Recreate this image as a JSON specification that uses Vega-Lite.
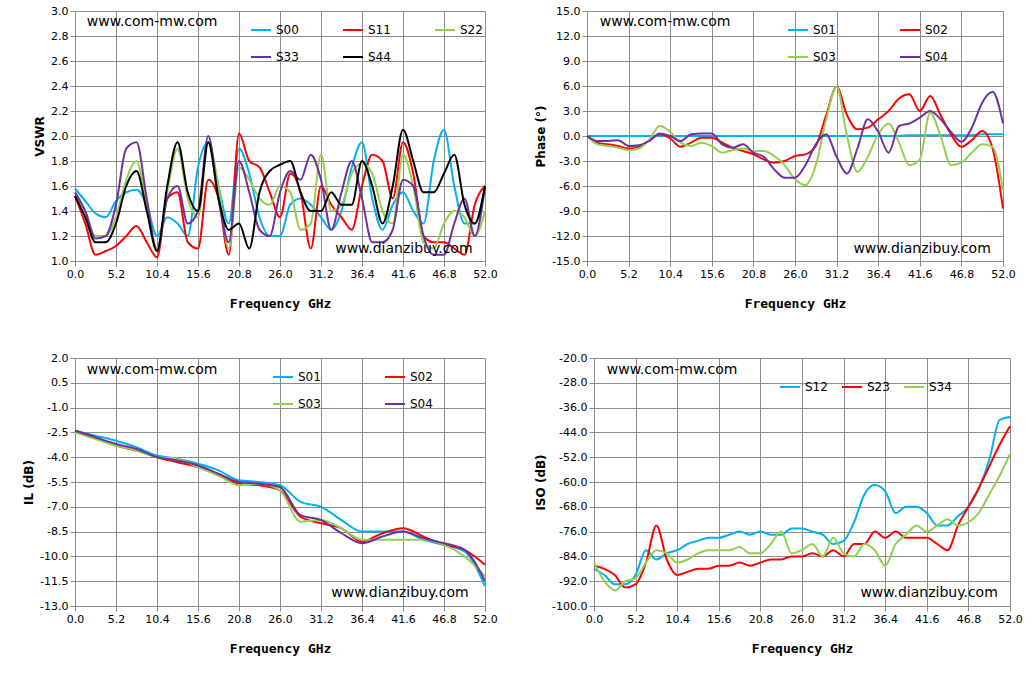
{
  "$schema": "https://vega.github.io/schema/vega-lite/v6.json",
  "background": "white",
  "padding": {"left": 22, "top": 5, "right": 4, "bottom": 5},
  "resolve": {"scale": {"color": "independent"}, "legend": {"color": "independent"}},
  "config": {
    "view": {"stroke": null},
    "axis": {"gridColor": "#8c8c8c", "gridWidth": 1, "domainColor": "#8c8c8c", "tickColor": "#8c8c8c", "labelFont": "DejaVu Sans", "labelFontSize": 11, "labelColor": "black", "titleColor": "black", "labelOverlap": false, "labelFlush": false, "labelBound": false, "tickCount": 11, "labelExpr": "replace(format(datum.value, '.1f'), '\u2212', '-')"},
    "axisX": {"titleFont": "DejaVu Sans Mono", "titleFontSize": 13, "titleFontWeight": "bold", "titlePadding": 18},
    "axisY": {"titleFont": "DejaVu Sans", "titleFontSize": 12, "titleFontWeight": "bold"},
    "legend": {"orient": "none", "direction": "horizontal", "symbolType": "stroke", "symbolSize": 400, "symbolStrokeWidth": 2, "labelFont": "DejaVu Sans", "labelFontSize": 12, "title": null, "columnPadding": 40, "rowPadding": 10},
    "line": {"strokeWidth": 2, "interpolate": "monotone"},
    "text": {"font": "DejaVu Sans", "fontSize": 14, "align": "left", "baseline": "middle"}
  },
  "datasets": {
    "tl": [
      {"f":0,"S00":1.58,"S11":1.52,"S22":1.55,"S33":1.55,"S44":1.52},
      {"f":1.3,"S00":1.48,"S11":1.3,"S22":1.4,"S33":1.4,"S44":1.35},
      {"f":2.6,"S00":1.38,"S11":1.05,"S22":1.2,"S33":1.18,"S44":1.15},
      {"f":3.9,"S00":1.35,"S11":1.08,"S22":1.2,"S33":1.2,"S44":1.15},
      {"f":5.2,"S00":1.48,"S11":1.12,"S22":1.35,"S33":1.45,"S44":1.3},
      {"f":6.5,"S00":1.55,"S11":1.2,"S22":1.65,"S33":1.9,"S44":1.6},
      {"f":7.8,"S00":1.57,"S11":1.28,"S22":1.8,"S33":1.95,"S44":1.72},
      {"f":9.1,"S00":1.45,"S11":1.15,"S22":1.45,"S33":1.5,"S44":1.4},
      {"f":10.4,"S00":1.2,"S11":1.03,"S22":1.1,"S33":1.08,"S44":1.08},
      {"f":11.7,"S00":1.35,"S11":1.5,"S22":1.55,"S33":1.5,"S44":1.6},
      {"f":13,"S00":1.3,"S11":1.55,"S22":1.9,"S33":1.6,"S44":1.95},
      {"f":14.3,"S00":1.2,"S11":1.15,"S22":1.5,"S33":1.3,"S44":1.55},
      {"f":15.6,"S00":1.75,"S11":1.1,"S22":1.35,"S33":1.4,"S44":1.4},
      {"f":16.9,"S00":1.95,"S11":1.65,"S22":1.95,"S33":2.0,"S44":1.95},
      {"f":18.2,"S00":1.6,"S11":1.5,"S22":1.6,"S33":1.5,"S44":1.5},
      {"f":19.5,"S00":1.3,"S11":1.05,"S22":1.1,"S33":1.15,"S44":1.25},
      {"f":20.8,"S00":1.9,"S11":2.02,"S22":1.75,"S33":1.8,"S44":1.3},
      {"f":22.1,"S00":1.7,"S11":1.8,"S22":1.65,"S33":1.55,"S44":1.1},
      {"f":23.4,"S00":1.35,"S11":1.75,"S22":1.5,"S33":1.25,"S44":1.55},
      {"f":24.7,"S00":1.2,"S11":1.55,"S22":1.45,"S33":1.2,"S44":1.72},
      {"f":26,"S00":1.2,"S11":1.35,"S22":1.6,"S33":1.55,"S44":1.77},
      {"f":27.3,"S00":1.45,"S11":1.7,"S22":1.55,"S33":1.72,"S44":1.8},
      {"f":28.6,"S00":1.5,"S11":1.55,"S22":1.25,"S33":1.65,"S44":1.55},
      {"f":29.9,"S00":1.45,"S11":1.1,"S22":1.3,"S33":1.85,"S44":1.4},
      {"f":31.2,"S00":1.35,"S11":1.6,"S22":1.85,"S33":1.65,"S44":1.4},
      {"f":32.5,"S00":1.25,"S11":1.45,"S22":1.4,"S33":1.25,"S44":1.55},
      {"f":33.8,"S00":1.4,"S11":1.35,"S22":1.45,"S33":1.55,"S44":1.45},
      {"f":35.1,"S00":1.75,"S11":1.25,"S22":1.7,"S33":1.8,"S44":1.45},
      {"f":36.4,"S00":1.95,"S11":1.6,"S22":1.78,"S33":1.5,"S44":1.8},
      {"f":37.7,"S00":1.5,"S11":1.85,"S22":1.7,"S33":1.15,"S44":1.6},
      {"f":39,"S00":1.25,"S11":1.8,"S22":1.4,"S33":1.15,"S44":1.3},
      {"f":40.3,"S00":1.45,"S11":1.5,"S22":1.3,"S33":1.25,"S44":1.6},
      {"f":41.6,"S00":1.55,"S11":1.95,"S22":1.85,"S33":1.65,"S44":2.05},
      {"f":42.9,"S00":1.4,"S11":1.7,"S22":1.6,"S33":1.6,"S44":1.8},
      {"f":44.2,"S00":1.3,"S11":1.2,"S22":1.15,"S33":1.2,"S44":1.55},
      {"f":45.5,"S00":1.8,"S11":1.15,"S22":1.1,"S33":1.05,"S44":1.55},
      {"f":46.8,"S00":2.05,"S11":1.15,"S22":1.3,"S33":1.05,"S44":1.7},
      {"f":48.1,"S00":1.6,"S11":1.1,"S22":1.4,"S33":1.3,"S44":1.85},
      {"f":49.4,"S00":1.3,"S11":1.05,"S22":1.35,"S33":1.5,"S44":1.45},
      {"f":50.7,"S00":1.3,"S11":1.45,"S22":1.2,"S33":1.2,"S44":1.3},
      {"f":52,"S00":1.6,"S11":1.6,"S22":1.4,"S33":1.6,"S44":1.6}
    ],
    "tr": [
      {"f":0,"S01":0,"S02":0,"S03":0,"S04":0},
      {"f":1.3,"S01":0,"S02":-0.8,"S03":-1,"S04":-0.6},
      {"f":2.6,"S01":0,"S02":-1,"S03":-1.2,"S04":-0.6},
      {"f":3.9,"S01":0,"S02":-1.2,"S03":-1.4,"S04":-0.5},
      {"f":5.2,"S01":0,"S02":-1.5,"S03":-1.7,"S04":-1.2},
      {"f":6.5,"S01":0,"S02":-1.3,"S03":-1.5,"S04":-1.1},
      {"f":7.8,"S01":0,"S02":-0.5,"S03":-0.4,"S04":-0.6},
      {"f":9.1,"S01":0,"S02":0.2,"S03":1.2,"S04":0.3},
      {"f":10.4,"S01":0,"S02":-0.3,"S03":0.5,"S04":0},
      {"f":11.7,"S01":0,"S02":-1.3,"S03":-0.8,"S04":-0.6},
      {"f":13,"S01":0,"S02":-0.8,"S03":-1.2,"S04":0.2},
      {"f":14.3,"S01":0,"S02":-0.2,"S03":-0.8,"S04":0.3},
      {"f":15.6,"S01":0,"S02":-0.2,"S03":-1.2,"S04":0.3},
      {"f":16.9,"S01":0,"S02":-0.8,"S03":-2.0,"S04":-1.0},
      {"f":18.2,"S01":0,"S02":-1.4,"S03":-1.7,"S04":-1.4},
      {"f":19.5,"S01":0,"S02":-1.8,"S03":-1.5,"S04":-1.0},
      {"f":20.8,"S01":0,"S02":-2.2,"S03":-1.8,"S04":-2.0},
      {"f":22.1,"S01":0,"S02":-2.8,"S03":-1.8,"S04":-2.5},
      {"f":23.4,"S01":0,"S02":-3.2,"S03":-2.4,"S04":-4.0},
      {"f":24.7,"S01":0,"S02":-3.0,"S03":-3.5,"S04":-5.0},
      {"f":26,"S01":0,"S02":-2.4,"S03":-5.2,"S04":-5.0},
      {"f":27.3,"S01":0,"S02":-2.2,"S03":-5.9,"S04":-3.5},
      {"f":28.6,"S01":0,"S02":-1.2,"S03":-3.5,"S04":-1.0},
      {"f":29.9,"S01":0,"S02":2.5,"S03":2.0,"S04":0.2},
      {"f":31.2,"S01":0,"S02":5.9,"S03":5.9,"S04":-2.5},
      {"f":32.5,"S01":0,"S02":2.5,"S03":0,"S04":-4.5},
      {"f":33.8,"S01":0,"S02":0.8,"S03":-4.3,"S04":-1.5},
      {"f":35.1,"S01":0,"S02":1.0,"S03":-2.5,"S04":2.0},
      {"f":36.4,"S01":0,"S02":2.0,"S03":0.2,"S04":0.5},
      {"f":37.7,"S01":0,"S02":3.0,"S03":1.5,"S04":-2.0},
      {"f":39,"S01":0,"S02":4.5,"S03":-0.8,"S04":1.2},
      {"f":40.3,"S01":0.1,"S02":5.0,"S03":-3.5,"S04":1.5},
      {"f":41.6,"S01":0.1,"S02":3.0,"S03":-2.8,"S04":2.2},
      {"f":42.9,"S01":0.1,"S02":4.8,"S03":2.8,"S04":3.0},
      {"f":44.2,"S01":0.1,"S02":2.5,"S03":0,"S04":2.0},
      {"f":45.5,"S01":0.1,"S02":0.2,"S03":-3.5,"S04":0.5},
      {"f":46.8,"S01":0.1,"S02":-1.3,"S03":-3.2,"S04":-0.7},
      {"f":48.1,"S01":0.1,"S02":-0.5,"S03":-2.0,"S04":1.0},
      {"f":49.4,"S01":0.2,"S02":0.6,"S03":-1.0,"S04":4.0},
      {"f":50.7,"S01":0.2,"S02":-1.5,"S03":-1.3,"S04":5.3},
      {"f":52,"S01":0.2,"S02":-8.7,"S03":-6.5,"S04":1.5}
    ],
    "bl": [
      {"f":0,"S01":-2.4,"S02":-2.4,"S03":-2.5,"S04":-2.4},
      {"f":2.6,"S01":-2.7,"S02":-2.8,"S03":-2.9,"S04":-2.8},
      {"f":5.2,"S01":-3.0,"S02":-3.3,"S03":-3.3,"S04":-3.2},
      {"f":7.8,"S01":-3.4,"S02":-3.6,"S03":-3.6,"S04":-3.5},
      {"f":10.4,"S01":-3.9,"S02":-4.0,"S03":-4.0,"S04":-4.0},
      {"f":13,"S01":-4.1,"S02":-4.3,"S03":-4.1,"S04":-4.2},
      {"f":15.6,"S01":-4.4,"S02":-4.6,"S03":-4.6,"S04":-4.5},
      {"f":18.2,"S01":-4.8,"S02":-5.1,"S03":-5.1,"S04":-5.0},
      {"f":20.8,"S01":-5.4,"S02":-5.6,"S03":-5.7,"S04":-5.5},
      {"f":23.4,"S01":-5.5,"S02":-5.7,"S03":-5.6,"S04":-5.6},
      {"f":26,"S01":-5.7,"S02":-6.0,"S03":-6.0,"S04":-5.8},
      {"f":28.6,"S01":-6.7,"S02":-7.6,"S03":-7.9,"S04":-7.5},
      {"f":31.2,"S01":-7.0,"S02":-8.0,"S03":-7.8,"S04":-7.8},
      {"f":33.8,"S01":-7.8,"S02":-8.3,"S03":-8.3,"S04":-8.6},
      {"f":36.4,"S01":-8.5,"S02":-9.1,"S03":-9.0,"S04":-9.2},
      {"f":39,"S01":-8.5,"S02":-8.6,"S03":-9.0,"S04":-8.8},
      {"f":41.6,"S01":-8.5,"S02":-8.3,"S03":-9.0,"S04":-8.5},
      {"f":44.2,"S01":-9.0,"S02":-8.8,"S03":-9.0,"S04":-8.9},
      {"f":46.8,"S01":-9.3,"S02":-9.3,"S03":-9.3,"S04":-9.2},
      {"f":49.4,"S01":-9.7,"S02":-9.6,"S03":-10.0,"S04":-9.6},
      {"f":52,"S01":-11.8,"S02":-10.5,"S03":-11.2,"S04":-11.5}
    ],
    "br": [
      {"f":0,"S12":-88,"S23":-87,"S34":-86},
      {"f":1.3,"S12":-90,"S23":-88,"S34":-92},
      {"f":2.6,"S12":-93,"S23":-90,"S34":-95},
      {"f":3.9,"S12":-93,"S23":-94,"S34":-92},
      {"f":5.2,"S12":-90,"S23":-93,"S34":-91},
      {"f":6.5,"S12":-82,"S23":-86,"S34":-86},
      {"f":7.8,"S12":-85,"S23":-74,"S34":-82},
      {"f":9.1,"S12":-83,"S23":-85,"S34":-83},
      {"f":10.4,"S12":-82,"S23":-90,"S34":-86},
      {"f":11.7,"S12":-80,"S23":-89,"S34":-85},
      {"f":13,"S12":-79,"S23":-88,"S34":-83},
      {"f":14.3,"S12":-78,"S23":-88,"S34":-82},
      {"f":15.6,"S12":-78,"S23":-87,"S34":-82},
      {"f":16.9,"S12":-77,"S23":-87,"S34":-82},
      {"f":18.2,"S12":-76,"S23":-86,"S34":-81},
      {"f":19.5,"S12":-77,"S23":-87,"S34":-83},
      {"f":20.8,"S12":-76,"S23":-86,"S34":-83},
      {"f":22.1,"S12":-77,"S23":-85,"S34":-80},
      {"f":23.4,"S12":-77,"S23":-85,"S34":-76},
      {"f":24.7,"S12":-75,"S23":-84,"S34":-83},
      {"f":26,"S12":-75,"S23":-84,"S34":-82},
      {"f":27.3,"S12":-76,"S23":-83,"S34":-80},
      {"f":28.6,"S12":-77,"S23":-84,"S34":-84},
      {"f":29.9,"S12":-80,"S23":-82,"S34":-78},
      {"f":31.2,"S12":-79,"S23":-84,"S34":-83},
      {"f":32.5,"S12":-73,"S23":-80,"S34":-84},
      {"f":33.8,"S12":-64,"S23":-80,"S34":-80},
      {"f":35.1,"S12":-61,"S23":-76,"S34":-82},
      {"f":36.4,"S12":-63,"S23":-78,"S34":-87},
      {"f":37.7,"S12":-70,"S23":-76,"S34":-80},
      {"f":39,"S12":-68,"S23":-78,"S34":-77},
      {"f":40.3,"S12":-68,"S23":-78,"S34":-74},
      {"f":41.6,"S12":-70,"S23":-78,"S34":-76},
      {"f":42.9,"S12":-74,"S23":-80,"S34":-74},
      {"f":44.2,"S12":-74,"S23":-82,"S34":-72},
      {"f":45.5,"S12":-71,"S23":-74,"S34":-74},
      {"f":46.8,"S12":-68,"S23":-68,"S34":-73},
      {"f":48.1,"S12":-62,"S23":-62,"S34":-70},
      {"f":49.4,"S12":-53,"S23":-55,"S34":-64},
      {"f":50.7,"S12":-40,"S23":-48,"S34":-58},
      {"f":52,"S12":-39,"S23":-42,"S34":-51}
    ]
  },
  "vconcat": [
    {
      "resolve": {"scale": {"color": "independent"}, "legend": {"color": "independent"}},
      "hconcat": [
        {
          "width": 410, "height": 250,
          "layer": [
            {
              "data": {"name": "tl"},
              "transform": [{"fold": ["S00","S11","S22","S33","S44"], "as": ["key","v"]}],
              "mark": "line",
              "encoding": {
                "x": {"field": "f", "type": "quantitative", "title": "Frequency GHz", "scale": {"domain": [0,52], "nice": false}, "axis": {"values": [0,5.2,10.4,15.6,20.8,26,31.2,36.4,41.6,46.8,52]}},
                "y": {"field": "v", "type": "quantitative", "title": "VSWR", "scale": {"domain": [1,3], "nice": false}, "axis": {"values": [1,1.2,1.4,1.6,1.8,2,2.2,2.4,2.6,2.8,3]}},
                "color": {"field": "key", "type": "nominal", "sort": ["S00","S11","S22","S33","S44"], "scale": {"domain": ["S00","S11","S22","S33","S44"], "range": ["#00B0F0","#FF0000","#92D050","#7030A0","#000000"]}, "legend": {"legendX": 175, "legendY": 8, "columns": 3}}
              }
            },
            {
              "data": {"values": [{"x": 1.5, "y": 2.91, "t": "www.com-mw.com"}, {"x": 33, "y": 1.1, "t": "www.dianzibuy.com"}]},
              "mark": "text",
              "encoding": {"x": {"field": "x", "type": "quantitative"}, "y": {"field": "y", "type": "quantitative"}, "text": {"field": "t"}}
            }
          ]
        },
        {
          "width": 416, "height": 250,
          "layer": [
            {
              "data": {"name": "tr"},
              "transform": [{"fold": ["S01","S02","S03","S04"], "as": ["key","v"]}],
              "mark": "line",
              "encoding": {
                "x": {"field": "f", "type": "quantitative", "title": "Frequency GHz", "scale": {"domain": [0,52], "nice": false}, "axis": {"values": [0,5.2,10.4,15.6,20.8,26,31.2,36.4,41.6,46.8,52]}},
                "y": {"field": "v", "type": "quantitative", "title": "Phase (°)", "scale": {"domain": [-15,15], "nice": false}, "axis": {"values": [-15,-12,-9,-6,-3,0,3,6,9,12,15]}},
                "color": {"field": "key", "type": "nominal", "sort": ["S01","S02","S03","S04"], "scale": {"domain": ["S01","S02","S03","S04"], "range": ["#00B0F0","#FF0000","#92D050","#7030A0"]}, "legend": {"legendX": 200, "legendY": 8, "columns": 2, "columnPadding": 60}}
              }
            },
            {
              "data": {"values": [{"x": 1.6, "y": 13.7, "t": "www.com-mw.com"}, {"x": 33.3, "y": -13.6, "t": "www.dianzibuy.com"}]},
              "mark": "text",
              "encoding": {"x": {"field": "x", "type": "quantitative"}, "y": {"field": "y", "type": "quantitative"}, "text": {"field": "t"}}
            }
          ]
        }
      ],
      "spacing": 36
    },
    {
      "resolve": {"scale": {"color": "independent"}, "legend": {"color": "independent"}},
      "hconcat": [
        {
          "width": 410, "height": 248,
          "layer": [
            {
              "data": {"name": "bl"},
              "transform": [{"fold": ["S01","S02","S03","S04"], "as": ["key","v"]}],
              "mark": "line",
              "encoding": {
                "x": {"field": "f", "type": "quantitative", "title": "Frequency GHz", "scale": {"domain": [0,52], "nice": false}, "axis": {"values": [0,5.2,10.4,15.6,20.8,26,31.2,36.4,41.6,46.8,52]}},
                "y": {"field": "v", "type": "quantitative", "title": "IL (dB)", "scale": {"domain": [-13,2], "nice": false}, "axis": {"values": [-13,-11.5,-10,-8.5,-7,-5.5,-4,-2.5,-1,0.5,2]}},
                "color": {"field": "key", "type": "nominal", "sort": ["S01","S02","S03","S04"], "scale": {"domain": ["S01","S02","S03","S04"], "range": ["#00B0F0","#FF0000","#92D050","#7030A0"]}, "legend": {"legendX": 197, "legendY": 8, "columns": 2, "columnPadding": 60}}
              }
            },
            {
              "data": {"values": [{"x": 1.5, "y": 1.3, "t": "www.com-mw.com"}, {"x": 32.5, "y": -12.2, "t": "www.dianzibuy.com"}]},
              "mark": "text",
              "encoding": {"x": {"field": "x", "type": "quantitative"}, "y": {"field": "y", "type": "quantitative"}, "text": {"field": "t"}}
            }
          ]
        },
        {
          "width": 416, "height": 248,
          "layer": [
            {
              "data": {"name": "br"},
              "transform": [{"fold": ["S12","S23","S34"], "as": ["key","v"]}],
              "mark": "line",
              "encoding": {
                "x": {"field": "f", "type": "quantitative", "title": "Frequency GHz", "scale": {"domain": [0,52], "nice": false}, "axis": {"values": [0,5.2,10.4,15.6,20.8,26,31.2,36.4,41.6,46.8,52]}},
                "y": {"field": "v", "type": "quantitative", "title": "ISO (dB)", "scale": {"domain": [-100,-20], "nice": false}, "axis": {"values": [-100,-92,-84,-76,-68,-60,-52,-44,-36,-28,-20]}},
                "color": {"field": "key", "type": "nominal", "sort": ["S12","S23","S34"], "scale": {"domain": ["S12","S23","S34"], "range": ["#00B0F0","#FF0000","#92D050"]}, "legend": {"legendX": 185, "legendY": 18, "columns": 3, "columnPadding": 10}}
              }
            },
            {
              "data": {"values": [{"x": 1.6, "y": -23.9, "t": "www.com-mw.com"}, {"x": 33.3, "y": -95.8, "t": "www.dianzibuy.com"}]},
              "mark": "text",
              "encoding": {"x": {"field": "x", "type": "quantitative"}, "y": {"field": "y", "type": "quantitative"}, "text": {"field": "t"}}
            }
          ]
        }
      ],
      "spacing": 36
    }
  ],
  "spacing": 42
}
